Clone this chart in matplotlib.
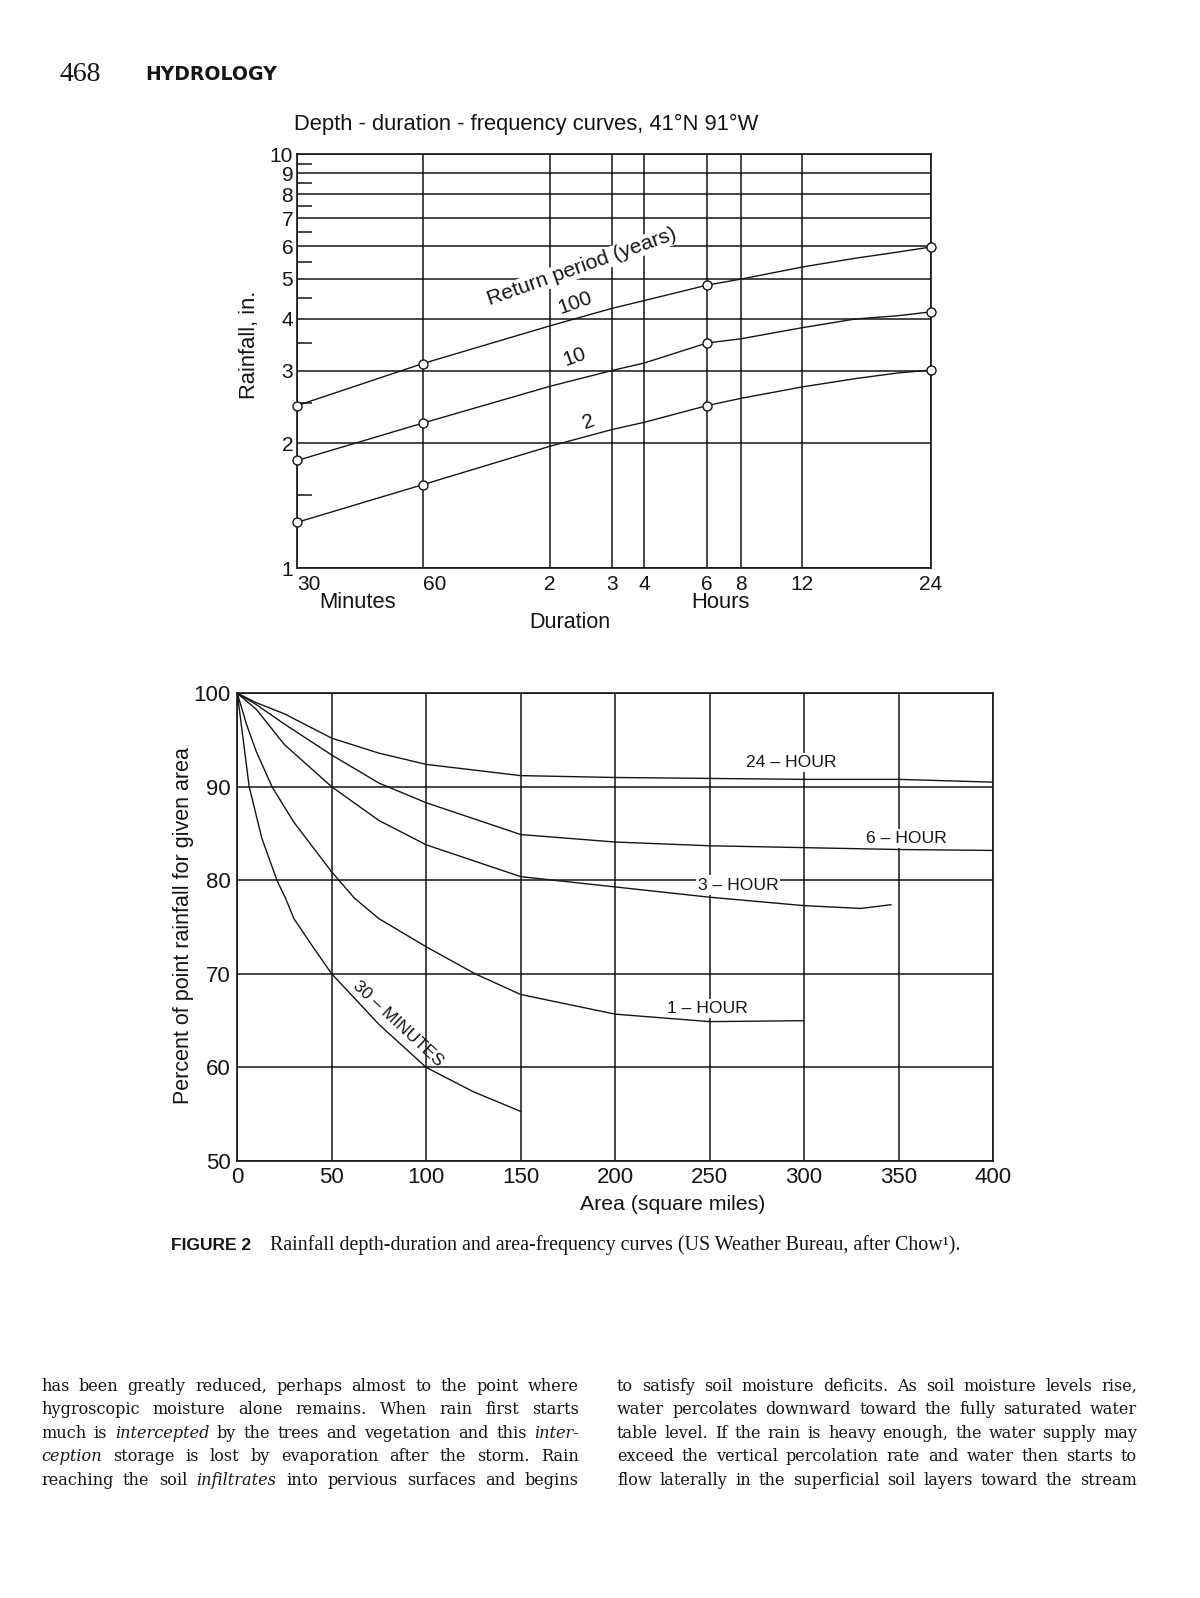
import matplotlib
matplotlib.use('Agg')
import matplotlib.pyplot as plt
import numpy as np
from matplotlib.ticker import NullFormatter
from matplotlib.font_manager import FontProperties, findfont, get_font
from matplotlib.backends.backend_agg import get_hinting_flag

plt.rcParams['font.family'] = ['Liberation Sans', 'DejaVu Sans']

W, H = 1200, 1598

# ******************* Depth-duration-frequency (top chart) *******************
dur_ticks = [30, 60, 120, 180, 240, 360, 480, 720, 1440]   # minutes
dur_labels = ['30', '60', '2', '3', '4', '6', '8', '12', '24']
dur_frac = [0.0, 0.198, 0.399, 0.496, 0.5475, 0.647, 0.6995, 0.797, 1.0]  # spacing of the printed paper

dur_min = [30, 60, 120, 180, 240, 360, 480, 720, 960, 1200, 1440]
rain_100 = [2.47, 3.12, 3.85, 4.24, 4.43, 4.83, 4.99, 5.34, 5.61, 5.80, 5.97]
rain_10 = [1.82, 2.24, 2.75, 3.00, 3.13, 3.50, 3.58, 3.81, 4.00, 4.07, 4.16]
rain_2 = [1.29, 1.59, 1.97, 2.16, 2.25, 2.47, 2.57, 2.74, 2.87, 2.96, 3.01]
mark_at = [0, 1, 5, 10]   # plotted points (circles)

rain_ticks = [1, 2, 3, 4, 5, 6, 7, 8, 9, 10]
rain_half = [1.5, 2.5, 3.5, 4.5, 5.5, 6.5, 7.5, 8.5, 9.5]

# ******************* Area-depth curves (bottom chart) ***********************
area_24h = [0, 10, 25, 50, 75, 100, 150, 200, 250, 300, 350, 400]
pct_24h = [100, 99.0, 97.8, 95.2, 93.6, 92.4, 91.2, 91.0, 90.9, 90.8, 90.8, 90.5]
area_6h = [0, 10, 25, 50, 75, 100, 150, 200, 250, 300, 350, 400]
pct_6h = [100, 98.8, 96.7, 93.4, 90.4, 88.3, 84.9, 84.1, 83.7, 83.5, 83.3, 83.2]
area_3h = [0, 10, 25, 50, 75, 100, 150, 200, 250, 300, 330, 346]
pct_3h = [100, 98.3, 94.5, 90.0, 86.4, 83.8, 80.4, 79.3, 78.2, 77.3, 77.0, 77.4]
area_1h = [0, 5, 10, 18.4, 30, 50, 62, 75, 100, 126, 150, 200, 250, 300]
pct_1h = [100, 96.6, 93.8, 90.0, 86.2, 80.9, 78.1, 75.9, 72.9, 70.0, 67.8, 65.7, 64.9, 65.0]
area_30m = [0, 6.3, 13, 21, 25.5, 30, 40, 50, 75, 100, 125, 150]
pct_30m = [100, 90.0, 84.5, 80.0, 78.1, 75.9, 72.9, 70.0, 64.6, 60.0, 57.4, 55.3]

area_ticks = [0, 50, 100, 150, 200, 250, 300, 350, 400]
pct_ticks = [50, 60, 70, 80, 90, 100]

# ******************* Page text ***********************************************
left_lines = [
    "has been greatly reduced, perhaps almost to the point where",
    "hygroscopic moisture alone remains. When rain first starts",
    "much is _intercepted_ by the trees and vegetation and this _inter-_",
    "_ception_ storage is lost by evaporation after the storm. Rain",
    "reaching the soil _infiltrates_ into pervious surfaces and begins",
]
right_lines = [
    "to satisfy soil moisture deficits. As soil moisture levels rise,",
    "water percolates downward toward the fully saturated water",
    "table level. If the rain is heavy enough, the water supply may",
    "exceed the vertical percolation rate and water then starts to",
    "flow laterally in the superficial soil layers toward the stream",
]

ink = '#151515'
fig = plt.figure(figsize=(12, 15.98), dpi=100)


def fax(x0, y0, x1, y1):
    return [x0 / W, 1 - y1 / H, (x1 - x0) / W, (y1 - y0) / H]


# ------------------------------ top chart ------------------------------------
ax1 = fig.add_axes(fax(297.3, 154.3, 931, 568))
lt = np.log(dur_ticks)


def fwd(x):
    return np.interp(np.log(np.clip(x, 1e-9, None)), lt, dur_frac)


def inv(f):
    return np.exp(np.interp(f, dur_frac, lt))


ax1.set_xscale('function', functions=(fwd, inv))
ax1.set_yscale('log')
ax1.set_xlim(30, 1440)
ax1.set_ylim(1, 10)

for vals in (rain_100, rain_10, rain_2):
    ax1.plot(dur_min, vals, color=ink, lw=1.0, marker='o', markevery=mark_at,
             ms=6.5, mfc='white', mec=ink, mew=1.0, zorder=5, clip_on=False)

ax1.set_xticks(dur_ticks)
ax1.set_xticklabels(dur_labels)
ax1.set_xticks([], minor=True)
ax1.set_yticks(rain_ticks)
ax1.set_yticklabels([str(v) for v in rain_ticks])
ax1.set_yticks(rain_half, minor=True)
ax1.yaxis.set_minor_formatter(NullFormatter())
ax1.grid(True, which='major', color=ink, lw=1.1)
ax1.tick_params(axis='both', which='major', length=0, labelsize=15, colors=ink)
ax1.tick_params(axis='x', pad=5)
ax1.tick_params(axis='y', pad=3)
ax1.tick_params(axis='y', which='minor', direction='in', length=11, width=1.1, color=ink)
for lab in ax1.get_xticklabels()[:2]:
    lab.set_ha('left')
for s in ax1.spines.values():
    s.set_linewidth(1.2)
    s.set_color(ink)

bb = dict(facecolor='white', edgecolor='none', pad=0.5)
ax1.text(0.449, 0.7276, 'Return period (years)', transform=ax1.transAxes, rotation=19.5,
         ha='center', va='center', fontsize=15.2, color=ink, bbox=bb, zorder=4)
ax1.text(0.438, 0.640, '100', transform=ax1.transAxes, rotation=19.5,
         ha='center', va='center', fontsize=15, color=ink, zorder=4)
ax1.text(0.438, 0.511, '10', transform=ax1.transAxes, rotation=19.5,
         ha='center', va='center', fontsize=15, color=ink, zorder=4)
ax1.text(0.459, 0.354, '2', transform=ax1.transAxes, rotation=19.5,
         ha='center', va='center', fontsize=15, color=ink, zorder=4)

fig.text(526.5 / W, 1 - 124 / H, 'Depth - duration - frequency curves, 41°N 91°W',
         ha='center', va='center', fontsize=15.8, color=ink)
fig.text(249 / W, 1 - 345 / H, 'Rainfall, in.', rotation=90, ha='center', va='center',
         fontsize=15.8, color=ink)
fig.text(358 / W, 1 - 602 / H, 'Minutes', ha='center', va='center', fontsize=15.8, color=ink)
fig.text(720 / W, 1 - 602 / H, 'Hours', ha='center', va='center', fontsize=15.8, color=ink)
fig.text(570 / W, 1 - 622 / H, 'Duration', ha='center', va='center', fontsize=15.5, color=ink)

# ------------------------------ bottom chart ---------------------------------
ax2 = fig.add_axes(fax(237.3, 693.3, 993, 1161))
for xs, ys in ((area_24h, pct_24h), (area_6h, pct_6h), (area_3h, pct_3h),
               (area_1h, pct_1h), (area_30m, pct_30m)):
    ax2.plot(xs, ys, color=ink, lw=1.0, zorder=5)
ax2.set_xlim(0, 400)
ax2.set_ylim(50, 100)
ax2.set_xticks(area_ticks)
ax2.set_yticks(pct_ticks)
ax2.grid(True, color=ink, lw=1.1)
ax2.tick_params(axis='both', length=0, labelsize=16, colors=ink)
ax2.tick_params(axis='x', pad=4)
ax2.tick_params(axis='y', pad=5)
for s in ax2.spines.values():
    s.set_linewidth(1.2)
    s.set_color(ink)

bb2 = dict(facecolor='white', edgecolor='none', pad=1.5)
ax2.text(293, 92.6, '24 – HOUR', ha='center', va='center', fontsize=12.6, color=ink, bbox=bb2, zorder=4)
ax2.text(354, 84.5, '6 – HOUR', ha='center', va='center', fontsize=12.6, color=ink, bbox=bb2, zorder=4)
ax2.text(265, 79.5, '3 – HOUR', ha='center', va='center', fontsize=12.6, color=ink, bbox=bb2, zorder=4)
ax2.text(249, 66.3, '1 – HOUR', ha='center', va='center', fontsize=12.6, color=ink, bbox=bb2, zorder=4)
ax2.text(85, 64.7, '30 – MINUTES', rotation=-43, ha='center', va='center', fontsize=12.6,
         color=ink, zorder=4)

fig.text(183.5 / W, 1 - 926 / H, 'Percent of point rainfall for given area', rotation=90,
         ha='center', va='center', fontsize=15.5, color=ink)
fig.text(673 / W, 1 - 1204 / H, 'Area (square miles)', ha='center', va='center',
         fontsize=15.3, color=ink)

# ------------------------------ page furniture -------------------------------
fig.text(59 / W, 1 - 81 / H, '468', family='Liberation Serif', fontsize=20, va='baseline', color=ink)
fig.text(145 / W, 1 - 80.5 / H, 'HYDROLOGY', family='DejaVu Sans', weight='bold', fontsize=13.6,
         va='baseline', color=ink)

rend = fig.canvas.get_renderer()


def base_row(word, prop, yb):
    # pixel row where Agg will put the baseline of this word (to keep words level)
    font = get_font(findfont(prop))
    font.clear()
    font.set_size(prop.get_size_in_points(), fig.dpi)
    font.set_text(word, 0, flags=get_hinting_flag())
    w, h = font.get_width_height()
    d64 = font.get_descent()
    return round(yb + d64 / 64.0) - h // 64 + (h - d64) // 64


def set_words(line, x0, x1, base, size):
    arts, rows = [], []
    for w in line.split(' '):
        st = 'normal'
        if w.startswith('_'):
            st = 'italic'
            w = w.strip('_')
        prop = FontProperties(family='DejaVu Serif', style=st, size=size)
        arts.append(fig.text(0, 1 - base / H, w, fontproperties=prop,
                             va='baseline', ha='left', color=ink))
        rows.append(base_row(w, prop, base))
    ref = int(np.median(rows))
    widths = [a.get_window_extent(rend).width for a in arts]
    gap = (x1 - x0 - sum(widths)) / (len(arts) - 1)
    x = x0
    for a, wd, r in zip(arts, widths, rows):
        a.set_position((x / W, 1 - (base - (r - ref)) / H))
        x += wd + gap


for i, ln in enumerate(left_lines):
    set_words(ln, 41, 579, 1391 + i * 23.45, 11.6)
for i, ln in enumerate(right_lines):
    set_words(ln, 617, 1137, 1391 + i * 23.45, 11.6)

cap_a = fig.text(171 / W, 1 - 1250 / H, 'FIGURE 2', family='Liberation Sans', weight='bold',
                 fontsize=12.5, va='baseline', color=ink)
cap_b = fig.text(270 / W, 1 - 1250 / H,
                 'Rainfall depth-duration and area-frequency curves (US Weather Bureau, after Chow¹).',
                 family='Liberation Serif', fontsize=12, va='baseline', color=ink)
wb = cap_b.get_window_extent(rend).width
cap_b.set_fontsize(12 * (959 - 270) / wb)

fig.savefig('out.png', dpi=100, facecolor='white')
